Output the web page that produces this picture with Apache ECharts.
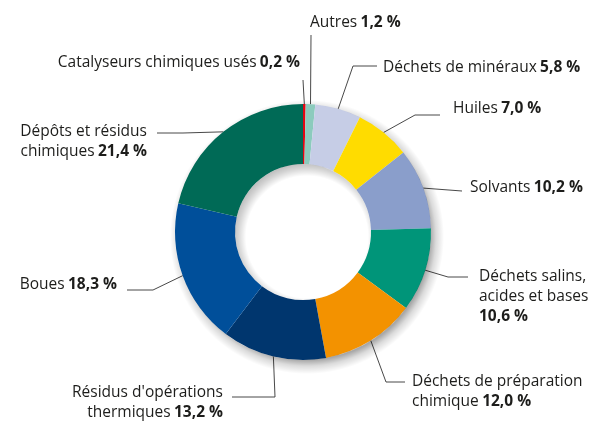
<!DOCTYPE html>
<html>
<head>
<meta charset="utf-8">
<style>
  html, body { margin: 0; padding: 0; background: #fff; }
  #chart { width: 593px; height: 421px; }
</style>
<script src="https://cdn.jsdelivr.net/npm/echarts@6/dist/echarts.min.js"></script>
</head>
<body>
<div id="chart"></div>
<script>
// slices, clockwise from 12 o'clock
const categories = [
  'Catalyseurs chimiques usés',
  'Autres',
  'Déchets de minéraux',
  'Huiles',
  'Solvants',
  'Déchets salins,\nacides et bases\n',
  'Déchets de préparation\nchimique',
  "Résidus d'opérations\nthermiques",
  'Boues',
  'Dépôts et résidus\nchimiques'
];
const shares = [0.2, 1.2, 5.8, 7.0, 10.2, 10.6, 12.0, 13.2, 18.3, 21.4];
const colors = ['#e30613', '#8ccbbd', '#c6cde6', '#ffdc00', '#8a9ecb',
                '#009579', '#f39200', '#00366e', '#004f9a', '#006a56'];

// where each label sits and how its leader line bends
const labelSpots = [
  { x: 300, y: 63,  align: 'right', line: [[303, 80]] },
  { x: 310, y: 23,  align: 'left',  line: [[311, 35]] },
  { x: 383, y: 68,  align: 'left',  line: [[353, 66], [377, 66]] },
  { x: 453, y: 109, align: 'left',  line: [[415, 115], [440, 115]] },
  { x: 470, y: 188, align: 'left',  line: [[462, 191]] },
  { x: 479, y: 297, align: 'left',  line: [[448, 277], [468, 277]] },
  { x: 412, y: 392, align: 'left',  line: [[386, 382], [405, 382]] },
  { x: 223, y: 403, align: 'right', line: [[275, 397], [232, 397]] },
  { x: 117, y: 285, align: 'right', line: [[153, 290], [127, 290]] },
  { x: 147, y: 142, align: 'right', line: [[183, 133], [157, 133]] }
];

const FONT = 'Open Sans';
const fmt = v => v.toFixed(1).replace('.', ',') + ' %';

const CX = 303, CY = 232, R0 = 68, R = 128;
// shadow is faked with radial gradients centred a bit down-right,
// painted just outside the ring and inside the hole
const SX = CX + 4, SY = CY + 5;
const outerShadow = {
  type: 'radial', x: SX, y: SY, r: R + 9, global: true,
  colorStops: [
    { offset: 0, color: 'rgba(0,0,0,0.34)' },
    { offset: (R - 5) / (R + 9), color: 'rgba(0,0,0,0.34)' },
    { offset: (R + 1) / (R + 9), color: 'rgba(0,0,0,0.14)' },
    { offset: 1, color: 'rgba(0,0,0,0)' }
  ]
};
const innerShadow = {
  type: 'radial', x: SX, y: SY, r: R0 + 10, global: true,
  colorStops: [
    { offset: 0, color: 'rgba(0,0,0,0)' },
    { offset: (R0 - 7) / (R0 + 10), color: 'rgba(0,0,0,0)' },
    { offset: (R0 + 1) / (R0 + 10), color: 'rgba(0,0,0,0.17)' },
    { offset: 1, color: 'rgba(0,0,0,0.32)' }
  ]
};

function shadowSeries(radius, fill) {
  return {
    type: 'pie',
    silent: true,
    center: [CX, CY],
    radius: radius,
    label: { show: false },
    labelLine: { show: false },
    itemStyle: { color: fill },
    emphasis: { disabled: true },
    data: [{ name: 'ombre', value: 1 }]
  };
}

const chart = echarts.init(document.getElementById('chart'));

chart.setOption({
  animation: false,
  series: [
    {
      type: 'pie',
      center: [CX, CY],
      radius: [R0, R],
      startAngle: 90,
      clockwise: true,
      minAngle: 1.2,
      avoidLabelOverlap: false,
      label: {
        show: true,
        position: 'outside',
        formatter: p => {
          const parts = p.name.split('\n');
          const last = parts.pop();
          const lines = parts.map(s => '{n|' + s + '}');
          lines.push((last ? '{n|' + last + '} ' : '') + '{b|' + fmt(p.value) + '}');
          return lines.join('\n');
        },
        rich: {
          n: { fontFamily: FONT, fontSize: 15.5, color: '#1d1d1b', lineHeight: 20 },
          b: { fontFamily: FONT, fontSize: 15.5, fontWeight: 'bold', color: '#1d1d1b', lineHeight: 20 }
        }
      },
      labelLine: { show: true, lineStyle: { color: '#333', width: 0.9 } },
      labelLayout: params => {
        const s = labelSpots[params.dataIndex];
        const p0 = params.labelLinePoints ? params.labelLinePoints[0] : s.line[0];
        const pts = [p0].concat(s.line);
        if (pts.length < 3) pts.push(pts[pts.length - 1]);
        return {
          x: s.x,
          y: s.y,
          align: s.align,
          verticalAlign: 'middle',
          labelLinePoints: pts
        };
      },
      emphasis: { disabled: true },
      data: categories.map((name, i) => ({
        name: name,
        value: shares[i],
        itemStyle: { color: colors[i] }
      }))
    },
    shadowSeries([R, R + 16], outerShadow),
    shadowSeries([0, R0], innerShadow)
  ]
});
</script>
</body>
</html>
